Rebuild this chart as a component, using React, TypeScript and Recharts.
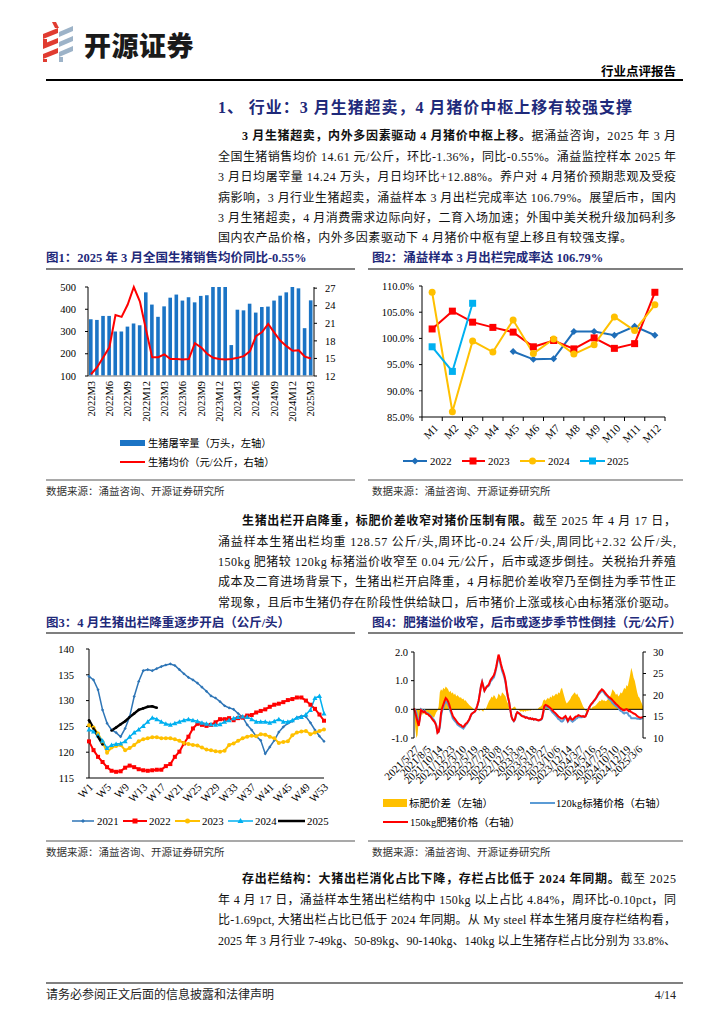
import React from 'react';
import { ComposedChart, LineChart, Bar, Line, Area, XAxis, YAxis, ReferenceLine } from 'recharts';

const SERIF = '"Liberation Serif", "Times New Roman", "Noto Sans CJK SC", serif';
const CJK = '"Liberation Serif", "Noto Sans CJK SC", sans-serif';
const NAVY = '#1F2A7A';

// ---------- Chart 1: monthly slaughter volume & price ----------
const months1 = [
  '2022M3', '2022M4', '2022M5', '2022M6', '2022M7', '2022M8', '2022M9', '2022M10', '2022M11', '2022M12',
  '2023M1', '2023M2', '2023M3', '2023M4', '2023M5', '2023M6', '2023M7', '2023M8', '2023M9', '2023M10', '2023M11', '2023M12',
  '2024M1', '2024M2', '2024M3', '2024M4', '2024M5', '2024M6', '2024M7', '2024M8', '2024M9', '2024M10', '2024M11', '2024M12',
  '2025M1', '2025M2', '2025M3',
];
const slaughter1 = [355, 352, 370, 370, 300, 300, 322, 336, 328, 476, 421, 366, 413, 452, 466, 439, 454, 431, 460, 463, 505, 512, 520, 239, 398, 395, 425, 385, 410, 412, 439, 461, 476, 502, 494, 315, 440];
const price1 = [12.3, 13.5, 15.2, 16.9, 22.4, 22.1, 24.2, 27.2, 24.7, 19.9, 15.2, 15.2, 15.7, 14.9, 14.9, 14.8, 14.9, 17.6, 16.9, 15.8, 15.1, 14.9, 14.8, 14.9, 15.1, 15.4, 16.2, 18.8, 19.5, 20.9, 19.4, 18.0, 17.1, 16.3, 16.4, 15.3, 15.0];

// ---------- Chart 2: monthly sale completion rate ----------
const months2 = ['M1', 'M2', 'M3', 'M4', 'M5', 'M6', 'M7', 'M8', 'M9', 'M10', 'M11', 'M12'];
const rate2022 = [null, null, null, null, 97.5, 96.0, 96.1, 101.3, 101.3, 100.6, 102.3, 100.6];
const rate2023 = [101.8, 105.2, 103.1, 102.1, 101.2, 98.4, 99.6, 98.0, 100.1, 98.1, 99.0, 108.8];
const rate2024 = [108.8, 86.0, 99.5, 97.4, 103.5, 97.1, 99.9, 97.0, 98.8, 104.1, 101.5, 106.4];
const rate2025 = [98.4, 93.7, 106.7, null, null, null, null, null, null, null, null, null];

// ---------- Chart 3: weekly sale weight ----------
const weeks3 = Array.from({ length: 53 }, (_, i) => `W${i + 1}`);
const wt2021 = [134.7, 134.0, 132.1, 128.2, 125.6, 124.3, 123.8, 123.0, 124.6, 126.9, 130.8, 133.7, 135.8, 136.0, 135.8, 136.2, 136.6, 136.9, 137.1, 136.8, 136.0, 135.2, 134.5, 134.0, 133.4, 132.6, 131.8, 130.9, 130.5, 129.8, 129.0, 128.6, 128.3, 127.5, 126.8, 125.3, 124.3, 123.1, 122.3, 119.7, 121.0, 122.3, 123.9, 124.9, 125.6, 126.0, 126.7, 127.0, 126.9, 125.7, 124.3, 123.1, 122.1];
const wt2022 = [122.1, 120.4, 119.1, 118.1, 117.1, 116.4, 116.2, 116.3, 117.0, 117.4, 117.1, 116.7, 116.5, 116.4, 116.5, 116.6, 116.6, 117.3, 117.7, 119.1, 120.1, 121.7, 123.0, 124.6, 125.5, 125.3, 125.1, 125.3, 125.8, 126.4, 126.4, 126.6, 126.2, 126.6, 126.7, 127.1, 127.2, 127.7, 128.0, 128.3, 128.8, 129.2, 129.4, 129.7, 130.1, 130.3, 130.6, 130.6, 130.0, 129.2, 128.4, 127.3, 126.1];
const wt2023 = [125.2, 124.8, 123.6, 122.0, 119.9, 120.9, 121.2, 121.4, 120.4, 120.8, 121.4, 122.1, 122.5, 122.7, 122.9, 122.9, 122.7, 122.7, 122.7, 122.5, 122.2, 121.8, 121.6, 121.4, 121.3, 120.9, 120.5, 120.4, 120.2, 120.1, 120.3, 121.4, 121.7, 122.2, 122.7, 123.0, 123.2, 123.1, 123.5, 123.4, 123.0, 122.7, 121.8, 122.0, 122.1, 123.3, 123.8, 124.0, 124.1, 123.5, 123.8, 124.1, 124.4];
const wt2024 = [124.4, 124.0, 123.3, 122.2, 120.8, 121.4, 121.6, 121.7, 122.1, 123.0, 123.8, 124.4, 125.1, 125.9, 126.7, 126.4, 125.9, 125.5, 125.3, 125.6, 125.9, 126.2, 126.4, 126.2, 126.0, 125.7, 125.5, 125.4, 125.3, 125.4, 125.9, 126.2, 126.6, 126.8, 126.9, 126.8, 126.4, 125.9, 125.9, 125.9, 125.7, 126.0, 126.4, 125.9, 125.9, 126.2, 126.7, 126.8, 127.3, 128.2, 130.5, 130.9, 127.5];
const wt2025 = [126.2, 124.6, 123.0, 121.5, null, 124.2, 124.8, 125.4, 126.0, 126.8, 127.5, 128.2, 128.5, 128.8, 128.9, 128.6];

// ---------- Chart 4: weekly fat/standard hog spread ----------
const dateLabels4 = ['2021/5/27', '2021/8/5', '2021/10/14', '2021/12/23', '2022/3/10', '2022/5/19', '2022/7/28', '2022/10/8', '2022/12/15', '2023/3/9', '2023/5/18', '2023/7/27', '2023/10/6', '2023/12/14', '2024/3/7', '2024/5/16', '2024/7/25', '2024/10/10', '2024/12/19', '2025/3/6'];
const spread4 = [
  0.2, -0.6, -1.0, -0.9, -0.4, -0.2, -0.15, -0.2, -0.1, -0.15,
  -0.2, -0.2, -0.15, -0.25, -0.2, -0.3, -0.25, -0.3, -0.2, -0.1,
  -0.05, 0.1, 0.6, 0.7, 0.65, 0.75, 0.7, 0.8, 0.75, 0.7,
  0.6, 0.65, 0.55, 0.6, 0.5, 0.55, 0.45, 0.5, 0.45, 0.4,
  0.42, 0.35, 0.38, 0.3, 0.32, 0.25, 0.2, 0.15, 0.12, 0.08,
  0.05, 0.0, 0.02, -0.02, 0.0, -0.03, -0.05, 0.0, -0.05, -0.08,
  0.05, 0.0, 0.1, 0.2, 0.3, 0.35, 0.45, 0.4, 0.5, 0.45,
  0.35, 0.4, 0.55, 0.5, 0.45, 0.6, 0.55, 0.5, 0.45, 0.3,
  0.2, 0.1, 0.05, 0.02, 0.05, 0.08, 0.1, 0.02, 0.0, -0.02,
  -0.05, -0.08, -0.05, -0.1, -0.05, -0.08, -0.04, -0.06, -0.03, -0.05,
  -0.02, 0.0, -0.03, 0.0, 0.02, 0.0, 0.05, 0.08, 0.1, 0.15,
  0.3, 0.35, 0.3, 0.35, 0.4, 0.35, 0.45, 0.4, 0.5, 0.45,
  0.5, 0.55, 0.5, 0.6, 0.55, 0.7, 0.75, 0.6, 0.45, 0.3,
  0.2, 0.25, 0.3, 0.35, 0.45, 0.5, 0.55, 0.6, 0.5, 0.55,
  0.45, 0.4, 0.3, 0.2, 0.1, 0.05, -0.05, -0.1, -0.05, 0.0,
  0.05, 0.02, 0.08, 0.1, 0.12, 0.15, 0.2, 0.25, 0.3, 0.28,
  0.35, 0.3, 0.32, 0.28, 0.3, 0.35, 0.4, 0.45, 0.55, 0.7,
  0.65, 0.6, 0.5, 0.55, 0.45, 0.5, 0.6, 0.55, 0.65, 0.75,
  0.7, 0.85, 0.8, 1.0, 1.2, 1.45, 1.3, 1.1, 1.0, 0.8,
  0.6, 0.45, 0.4, 0.3, 0.2, 0.1,
];
const p120_4 = [
  16.7, 16.6, 15.9, 14.7, 13.2, 14.7, 16.7, 16.5, 16.1, 16.4,
  16.0, 15.8, 15.7, 15.5, 15.2, 14.9, 14.5, 14.2, 13.7, 12.9,
  11.3, 11.4, 12.4, 15.1, 16.4, 17.1, 17.9, 18.5, 18.3, 17.8,
  17.2, 16.2, 15.5, 14.6, 14.2, 13.9, 13.6, 13.1, 12.9, 12.7,
  12.6, 12.4, 12.2, 12.6, 13.0, 13.3, 13.7, 14.2, 14.9, 15.5,
  15.8, 16.0, 16.2, 16.8, 17.6, 18.6, 20.3, 22.0, 23.1, 22.1,
  21.0, 21.5, 21.9, 22.0, 22.3, 23.1, 23.4, 23.8, 24.1, 25.0,
  26.2, 27.6, 28.9, 28.0, 26.8, 25.6, 24.9, 24.0, 22.8, 20.9,
  19.4, 18.3, 16.6, 15.0, 14.3, 13.9, 14.3, 15.5, 16.0, 15.8,
  15.7, 15.4, 15.2, 15.1, 15.0, 14.8, 14.8, 14.7, 14.5, 14.6,
  14.4, 14.5, 14.3, 14.4, 14.3, 14.2, 14.1, 14.1, 14.2, 14.5,
  15.7, 17.1, 17.4, 17.3, 17.0, 16.9, 16.6, 16.3, 15.9, 15.7,
  15.4, 15.1, 14.8, 14.4, 14.3, 13.9, 13.8, 14.0, 14.5, 14.8,
  14.4, 13.8, 14.2, 14.6, 14.0, 13.8, 14.0, 14.2, 14.5, 14.6,
  14.9, 14.8, 14.8, 14.8, 15.0, 14.9, 15.1, 15.7, 16.4, 17.0,
  17.5, 17.9, 18.1, 18.5, 18.8, 19.2, 19.6, 20.1, 20.4, 20.7,
  21.0, 20.8, 20.5, 20.1, 19.8, 19.5, 19.1, 18.9, 18.6, 18.1,
  17.9, 17.6, 17.4, 17.2, 17.0, 16.6, 16.3, 16.2, 15.9, 15.7,
  15.9, 15.9, 15.7, 15.2, 15.1, 14.6, 14.6, 14.6, 14.6, 14.6,
  14.5, 14.5, 14.4, 14.4, 14.6, 14.8,
];
const p150_4 = [
  16.9, 16.0, 14.9, 13.8, 12.8, 14.5, 16.5, 16.3, 16.0, 16.2,
  15.8, 15.6, 15.5, 15.2, 15.0, 14.6, 14.2, 13.9, 13.5, 12.8,
  11.2, 11.5, 13.0, 15.8, 17.0, 17.8, 18.6, 19.3, 19.0, 18.5,
  17.8, 16.8, 16.0, 15.2, 14.7, 14.4, 14.0, 13.6, 13.3, 13.1,
  13.0, 12.7, 12.6, 12.9, 13.3, 13.5, 13.9, 14.3, 15.0, 15.6,
  15.8, 16.0, 16.2, 16.8, 17.6, 18.6, 20.2, 22.0, 23.0, 22.0,
  21.0, 21.5, 22.0, 22.2, 22.6, 23.4, 23.8, 24.2, 24.6, 25.4,
  26.5, 28.0, 29.4, 28.5, 27.2, 26.2, 25.4, 24.5, 23.2, 21.2,
  19.6, 18.4, 16.6, 15.0, 14.3, 14.0, 14.4, 15.5, 16.0, 15.8,
  15.6, 15.3, 15.1, 15.0, 14.9, 14.7, 14.8, 14.6, 14.5, 14.6,
  14.4, 14.5, 14.3, 14.4, 14.3, 14.2, 14.1, 14.2, 14.3, 14.6,
  16.0, 17.4, 17.7, 17.6, 17.4, 17.2, 17.0, 16.7, 16.4, 16.1,
  15.9, 15.6, 15.3, 15.0, 14.8, 14.6, 14.5, 14.6, 14.9, 15.1,
  14.6, 14.0, 14.5, 14.9, 14.4, 14.3, 14.5, 14.8, 15.0, 15.1,
  15.3, 15.2, 15.1, 15.0, 15.1, 14.9, 15.0, 15.6, 16.3, 17.0,
  17.5, 17.9, 18.2, 18.6, 18.9, 19.3, 19.8, 20.3, 20.7, 21.0,
  21.3, 21.1, 20.8, 20.4, 20.1, 19.8, 19.5, 19.3, 19.1, 18.8,
  18.5, 18.2, 17.9, 17.7, 17.4, 17.1, 16.9, 16.7, 16.5, 16.4,
  16.6, 16.7, 16.5, 16.2, 16.3, 16.0, 15.9, 15.7, 15.6, 15.4,
  15.1, 14.9, 14.8, 14.7, 14.8, 14.9,
];

// ---------- assembled tables ----------
const data1 = months1.map((m, i) => ({ m, v: slaughter1[i], p: price1[i] }));
const data2 = months2.map((m, i) => ({ m, a: rate2022[i], b: rate2023[i], c: rate2024[i], d: rate2025[i] }));
const data3 = weeks3.map((w, i) => ({ w, a: wt2021[i], b: wt2022[i], c: wt2023[i], e: wt2024[i], f: i < wt2025.length ? wt2025[i] : null }));
const data4 = spread4.map((s, i) => ({ i, s, p1: p120_4[i], p2: p150_4[i] }));
const ticks4 = dateLabels4.map((_, k) => k * 10);

// ---------- tick renderers ----------
function TickRot90(props: any) {
  const { x, y, payload } = props;
  const ax = x, ay = y + 5;
  return (
    <text x={ax} y={ay} transform={`rotate(-90 ${ax} ${ay})`} textAnchor="end" dominantBaseline="central" fontSize={10.5} fontFamily={SERIF} fill="#000">
      {payload.value}
    </text>
  );
}

function TickRot45(props: any) {
  const { x, y, payload, fmt, ox = 3, oy = 7, fs = 10.5, half, last, index } = props;
  const label = fmt ? fmt(payload.value) : payload.value;
  const ax = x + ox, ay = y + oy;
  return (
    <g>
      {half ? <line x1={x - half} x2={x - half} y1={y} y2={y + 4} stroke="#000" strokeWidth={1} /> : null}
      {half && index === last ? <line x1={x + half} x2={x + half} y1={y} y2={y + 4} stroke="#000" strokeWidth={1} /> : null}
      <text x={ax} y={ay} transform={`rotate(-45 ${ax} ${ay})`} textAnchor="end" dominantBaseline="central" fontSize={fs} fontFamily={SERIF} fill="#000">
        {label}
      </text>
    </g>
  );
}

// ---------- marker renderers ----------
const nothing = (k: any) => <g key={k} />;
const squareDot = (size: number, fill: string) => (p: any) =>
  p.cx == null || p.cy == null || p.value == null ? nothing(p.index) : <rect key={p.index} x={p.cx - size / 2} y={p.cy - size / 2} width={size} height={size} fill={fill} />;
const circleDot = (r: number, fill: string) => (p: any) =>
  p.cx == null || p.cy == null || p.value == null ? nothing(p.index) : <circle key={p.index} cx={p.cx} cy={p.cy} r={r} fill={fill} />;
const diamondDot = (s: number, fill: string) => (p: any) =>
  p.cx == null || p.cy == null || p.value == null ? nothing(p.index) : <path key={p.index} d={`M${p.cx} ${p.cy - s}L${p.cx + s} ${p.cy}L${p.cx} ${p.cy + s}L${p.cx - s} ${p.cy}Z`} fill={fill} />;
const triDot = (s: number, fill: string) => (p: any) =>
  p.cx == null || p.cy == null || p.value == null ? nothing(p.index) : <path key={p.index} d={`M${p.cx} ${p.cy - s}L${p.cx + s} ${p.cy + s * 0.8}L${p.cx - s} ${p.cy + s * 0.8}Z`} fill={fill} />;

const axisTick = { fontSize: 10.5, fill: '#000', fontFamily: SERIF };
const blackLine = { stroke: '#000', strokeWidth: 1 };

// ---------- page text ----------
type Part = { t: string; b?: boolean };
type TL = { x: number; y: number; w?: number; parts: Part[] };
const bodyLines: TL[] = [
  { x: 242, y: 136, w: 434, parts: [{ t: '3 月生猪超卖，内外多因素驱动 4 月猪价中枢上移。', b: true }, { t: '据涌益咨询，2025 年 3 月' }] },
  { x: 218, y: 157, w: 458, parts: [{ t: '全国生猪销售均价 14.61 元/公斤，环比-1.36%，同比-0.55%。涌益监控样本 2025 年' }] },
  { x: 218, y: 177, w: 458, parts: [{ t: '3 月日均屠宰量 14.24 万头，月日均环比+12.88%。养户对 4 月猪价预期悲观及受疫' }] },
  { x: 218, y: 198, w: 458, parts: [{ t: '病影响，3 月行业生猪超卖，涌益样本 3 月出栏完成率达 106.79%。展望后市，国内' }] },
  { x: 218, y: 218, w: 458, parts: [{ t: '3 月生猪超卖，4 月消费需求边际向好，二育入场加速；外围中美关税升级加码利多' }] },
  { x: 218, y: 238, w: 414, parts: [{ t: '国内农产品价格，内外多因素驱动下 4 月猪价中枢有望上移且有较强支撑。' }] },
  { x: 242, y: 521, w: 434, parts: [{ t: '生猪出栏开启降重，标肥价差收窄对猪价压制有限。', b: true }, { t: '截至 2025 年 4 月 17 日，' }] },
  { x: 218, y: 541.5, w: 458, parts: [{ t: '涌益样本生猪出栏均重 128.57 公斤/头,周环比-0.24 公斤/头,周同比+2.32 公斤/头,' }] },
  { x: 218, y: 562, w: 458, parts: [{ t: '150kg 肥猪较 120kg 标猪溢价收窄至 0.04 元/公斤，后市或逐步倒挂。关税抬升养殖' }] },
  { x: 218, y: 582, w: 458, parts: [{ t: '成本及二育进场背景下，生猪出栏开启降重，4 月标肥价差收窄乃至倒挂为季节性正' }] },
  { x: 218, y: 602.5, w: 458, parts: [{ t: '常现象，且后市生猪仍存在阶段性供给缺口，后市猪价上涨或核心由标猪涨价驱动。' }] },
  { x: 242, y: 879, w: 434, parts: [{ t: '存出栏结构：大猪出栏消化占比下降，存栏占比低于 2024 年同期。', b: true }, { t: '截至 2025' }] },
  { x: 218, y: 900, w: 458, parts: [{ t: '年 4 月 17 日，涌益样本生猪出栏结构中 150kg 以上占比 4.84%，周环比-0.10pct，同' }] },
  { x: 218, y: 920, w: 458, parts: [{ t: '比-1.69pct, 大猪出栏占比已低于 2024 年同期。从 My steel 样本生猪月度存栏结构看，' }] },
  { x: 218, y: 941, w: 458, parts: [{ t: '2025 年 3 月行业 7-49kg、50-89kg、90-140kg、140kg 以上生猪存栏占比分别为 33.8%、' }] },
];
const chartTitles = [
  { x: 46, y: 258, t: '图1：2025 年 3 月全国生猪销售均价同比-0.55%' },
  { x: 372, y: 258, t: '图2：涌益样本 3 月出栏完成率达 106.79%' },
  { x: 46, y: 623, t: '图3：4 月生猪出栏降重逐步开启（公斤/头）' },
  { x: 372, y: 623, t: '图4：肥猪溢价收窄，后市或逐步季节性倒挂（元/公斤）' },
];
const SOURCE = '数据来源：涌益咨询、开源证券研究所';

function Logo() {
  return (
    <g transform="translate(42,22)">
      <path d="M10 0 L14 0 L17 6 L13 6 Z" fill="#E03C31" />
      <path d="M1 12 L16 6 L16 11 L1 17 Z" fill="#E03C31" />
      <path d="M1 17 L5 17 L5 24 L1 24 Z" fill="#E03C31" />
      <path d="M1 22 L16 16 L16 21 L1 27 Z" fill="#E03C31" />
      <path d="M1 32 L16 26 L16 31 L1 37 Z" fill="#E03C31" />
      <path d="M1 37 L5 37 L5 40 L1 40 Z" fill="#E03C31" />
      <path d="M17 10 L31 4 L31 9 L17 15 Z" fill="#9DB3C8" />
      <path d="M17 20 L31 14 L31 19 L17 25 Z" fill="#9DB3C8" />
      <path d="M17 30 L31 24 L31 29 L17 35 Z" fill="#9DB3C8" />
      <path d="M17 35 L21 35 L21 40 L17 40 Z" fill="#9DB3C8" />
    </g>
  );
}

function Page() {
  return (
    <svg width={724} height={1024} style={{ position: 'absolute', left: 0, top: 0 }}>
      <rect x={0} y={0} width={724} height={1024} fill="#fff" />
      <Logo />
      <text x={84} y={44} fontSize={27} fontWeight={900} fontFamily='"Noto Sans CJK SC", sans-serif' dominantBaseline="central" fill="#1a1a1a" letterSpacing={0.5}>开源证券</text>
      <text x={676} y={72} textAnchor="end" fontSize={12.5} fontWeight={700} fontFamily={CJK} dominantBaseline="central" fill="#000">行业点评报告</text>
      <line x1={46} x2={683} y1={80} y2={80} stroke="#000" strokeWidth={1.8} />
      <text x={218} y={107} textLength={414} lengthAdjust="spacing" fontSize={16} fontWeight={700} fontFamily={CJK} dominantBaseline="central" fill={NAVY}>1、 行业：3 月生猪超卖，4 月猪价中枢上移有较强支撑</text>
      {bodyLines.map((l, k) => (
        <text key={k} x={l.x} y={l.y} textLength={l.w} lengthAdjust="spacing" fontSize={12} fontFamily={CJK} dominantBaseline="central" fill="#111">
          {l.parts.map((p, j) => (
            <tspan key={j} fontWeight={p.b ? 700 : 400}>{p.t}</tspan>
          ))}
        </text>
      ))}
      {chartTitles.map((c, k) => (
        <text key={k} x={c.x} y={c.y} fontSize={12.5} fontWeight={700} fontFamily={CJK} dominantBaseline="central" fill={NAVY}>{c.t}</text>
      ))}
      {[269, 633].map((y) => (
        <g key={y}>
          <line x1={46} x2={355} y1={y} y2={y} stroke="#555" strokeWidth={1.5} />
          <line x1={368} x2={683} y1={y} y2={y} stroke="#555" strokeWidth={1.5} />
        </g>
      ))}
      {[[480, 491], [841, 852]].map(([ly, ty]) => (
        <g key={ly}>
          <line x1={46} x2={355} y1={ly} y2={ly} stroke="#8c8c8c" strokeWidth={1.5} />
          <line x1={368} x2={683} y1={ly} y2={ly} stroke="#8c8c8c" strokeWidth={1.5} />
          <text x={46} y={ty} fontSize={10.5} fontFamily={CJK} dominantBaseline="central" fill="#333">{SOURCE}</text>
          <text x={372} y={ty} fontSize={10.5} fontFamily={CJK} dominantBaseline="central" fill="#333">{SOURCE}</text>
        </g>
      ))}

      {/* legend chart 1 */}
      <rect x={120} y={440} width={25} height={6} fill="#1B74C5" />
      <text x={148} y={443} fontSize={10.3} fontFamily={CJK} dominantBaseline="central">生猪屠宰量（万头，左轴）</text>
      <line x1={120} x2={145} y1={462} y2={462} stroke="#FF0000" strokeWidth={2} />
      <text x={148} y={462} fontSize={10.3} fontFamily={CJK} dominantBaseline="central">生猪均价（元/公斤，右轴）</text>

      {/* legend chart 2 */}
      <line x1={403} x2={427} y1={461} y2={461} stroke="#1F6EB8" strokeWidth={2} />
      <path d="M415 457.5L418.5 461L415 464.5L411.5 461Z" fill="#1F6EB8" />
      <text x={430} y={461} fontSize={10.8} fontFamily={SERIF} dominantBaseline="central">2022</text>
      <line x1={462} x2={485} y1={461} y2={461} stroke="#FF0000" strokeWidth={2} />
      <rect x={469.5} y={457.5} width={7} height={7} fill="#FF0000" />
      <text x={488} y={461} fontSize={10.8} fontFamily={SERIF} dominantBaseline="central">2023</text>
      <line x1={520} x2={545} y1={461} y2={461} stroke="#FFC000" strokeWidth={2} />
      <circle cx={532.5} cy={461} r={3.5} fill="#FFC000" />
      <text x={548} y={461} fontSize={10.8} fontFamily={SERIF} dominantBaseline="central">2024</text>
      <line x1={580} x2={605} y1={461} y2={461} stroke="#00B0F0" strokeWidth={2} />
      <rect x={589} y={457.5} width={7} height={7} fill="#00B0F0" />
      <text x={607} y={461} fontSize={10.8} fontFamily={SERIF} dominantBaseline="central">2025</text>

      {/* legend chart 3 */}
      <line x1={72} x2={94} y1={821} y2={821} stroke="#2E75B6" strokeWidth={1.5} />
      <path d="M83 819L85 821L83 823L81 821Z" fill="#2E75B6" />
      <text x={97} y={821} fontSize={10.8} fontFamily={SERIF} dominantBaseline="central">2021</text>
      <line x1={123} x2={147} y1={821} y2={821} stroke="#FF0000" strokeWidth={2} />
      <rect x={132.5} y={818.5} width={5} height={5} fill="#FF0000" />
      <text x={149} y={821} fontSize={10.8} fontFamily={SERIF} dominantBaseline="central">2022</text>
      <line x1={175} x2={200} y1={821} y2={821} stroke="#FFC000" strokeWidth={2} />
      <circle cx={187.5} cy={821} r={2.5} fill="#FFC000" />
      <text x={202} y={821} fontSize={10.8} fontFamily={SERIF} dominantBaseline="central">2023</text>
      <line x1={228} x2={253} y1={821} y2={821} stroke="#00B0F0" strokeWidth={1.5} />
      <path d="M240.5 818L243.5 823L237.5 823Z" fill="#00B0F0" />
      <text x={255} y={821} fontSize={10.8} fontFamily={SERIF} dominantBaseline="central">2024</text>
      <line x1={278} x2={305} y1={821} y2={821} stroke="#000" strokeWidth={2.5} />
      <text x={307} y={821} fontSize={10.8} fontFamily={SERIF} dominantBaseline="central">2025</text>

      {/* legend chart 4 */}
      <rect x={383} y={799} width={24} height={8} fill="#FFC000" />
      <text x={409} y={803} fontSize={10.5} fontFamily={CJK} dominantBaseline="central">标肥价差（左轴）</text>
      <line x1={530} x2={555} y1={803} y2={803} stroke="#5B9BD5" strokeWidth={2} />
      <text x={556} y={803} fontSize={10.5} fontFamily={CJK} dominantBaseline="central">120kg标猪价格（右轴）</text>
      <line x1={383} x2={408} y1={822} y2={822} stroke="#FF0000" strokeWidth={2} />
      <text x={410} y={822} fontSize={10.5} fontFamily={CJK} dominantBaseline="central">150kg肥猪价格（右轴）</text>

      {/* footer */}
      <line x1={46} x2={683} y1={983} y2={983} stroke="#808080" strokeWidth={2} />
      <text x={46} y={995} fontSize={12} fontFamily={CJK} dominantBaseline="central" fill="#222">请务必参阅正文后面的信息披露和法律声明</text>
      <text x={676} y={995} textAnchor="end" fontSize={12} fontFamily={SERIF} dominantBaseline="central" fill="#222">4/14</text>
    </svg>
  );
}

const HALF2 = (665 - 422) / 24;

export default function App() {
  return (
    <div style={{ position: 'absolute', left: 0, top: 0, width: 724, height: 1024, background: '#fff', overflow: 'hidden' }}>
      <Page />

      {/* Chart 1 */}
      <div style={{ position: 'absolute', left: 40, top: 270 }}>
        <ComposedChart width={320} height={210} data={data1} margin={{ top: 17, right: 0, bottom: 0, left: 0 }}>
          <XAxis dataKey="m" interval={2} tickLine={false} tickSize={0} tickMargin={0} axisLine={{ stroke: '#A6A6A6', strokeWidth: 1.5 }} height={104} tick={<TickRot90 />} />
          <YAxis yAxisId="l" domain={[100, 500]} ticks={[100, 200, 300, 400, 500]} allowDataOverflow width={48} tick={axisTick} axisLine={blackLine} tickLine={blackLine} tickSize={3} tickMargin={9} />
          <YAxis yAxisId="r" orientation="right" domain={[12, 27]} ticks={[12, 15, 18, 21, 24, 27]} width={46} tick={axisTick} axisLine={blackLine} tickLine={blackLine} tickSize={3} tickMargin={8} />
          <Bar yAxisId="l" dataKey="v" fill="#1B74C5" barSize={3.6} isAnimationActive={false} />
          <Line yAxisId="r" dataKey="p" stroke="#FF0000" strokeWidth={2} dot={false} type="linear" isAnimationActive={false} />
        </ComposedChart>
      </div>

      {/* Chart 2 */}
      <div style={{ position: 'absolute', left: 360, top: 270 }}>
        <LineChart width={320} height={210} data={data2} margin={{ top: 16, right: 15, bottom: 0, left: 0 }}>
          <XAxis dataKey="m" scale="band" interval={0} tickLine={false} tickSize={0} tickMargin={0} axisLine={blackLine} height={63} tick={<TickRot45 half={HALF2} last={11} ox={4} oy={9} fs={11} />} />
          <YAxis domain={[85, 110]} ticks={[85, 90, 95, 100, 105, 110]} tickFormatter={(v: number) => v.toFixed(1) + '%'} width={62} tick={axisTick} axisLine={blackLine} tickLine={blackLine} tickSize={3} tickMargin={5} />
          <Line dataKey="a" stroke="#1F6EB8" strokeWidth={2} dot={diamondDot(3.5, '#1F6EB8')} isAnimationActive={false} />
          <Line dataKey="b" stroke="#FF0000" strokeWidth={2} dot={squareDot(7, '#FF0000')} isAnimationActive={false} />
          <Line dataKey="c" stroke="#FFC000" strokeWidth={2} dot={circleDot(3.5, '#FFC000')} isAnimationActive={false} />
          <Line dataKey="d" stroke="#00B0F0" strokeWidth={2} dot={squareDot(7, '#00B0F0')} isAnimationActive={false} />
        </LineChart>
      </div>

      {/* Chart 3 */}
      <div style={{ position: 'absolute', left: 40, top: 633 }}>
        <LineChart width={320} height={205} data={data3} margin={{ top: 16, right: 36, bottom: 0, left: 0 }}>
          <XAxis dataKey="w" scale="point" padding={{ left: 0, right: 0 }} interval={3} tickLine={false} tickSize={0} tickMargin={0} axisLine={blackLine} height={60} tick={<TickRot45 ox={2} oy={7} fs={11} />} />
          <YAxis domain={[115, 140]} ticks={[115, 120, 125, 130, 135, 140]} width={49} tick={axisTick} axisLine={blackLine} tickLine={blackLine} tickSize={3} tickMargin={12} />
          <Line dataKey="a" stroke="#2E75B6" strokeWidth={1.5} dot={diamondDot(1.6, '#2E75B6')} isAnimationActive={false} />
          <Line dataKey="b" stroke="#FF0000" strokeWidth={2} dot={squareDot(4, '#FF0000')} isAnimationActive={false} />
          <Line dataKey="c" stroke="#FFC000" strokeWidth={2} dot={circleDot(2, '#FFC000')} isAnimationActive={false} />
          <Line dataKey="e" stroke="#00B0F0" strokeWidth={1.5} dot={triDot(2.5, '#00B0F0')} isAnimationActive={false} />
          <Line dataKey="f" stroke="#000" strokeWidth={2.5} dot={circleDot(1.3, '#000')} isAnimationActive={false} />
        </LineChart>
      </div>

      {/* Chart 4 */}
      <div style={{ position: 'absolute', left: 360, top: 633 }}>
        <ComposedChart width={320} height={205} data={data4} margin={{ top: 19, right: 0, bottom: 0, left: 0 }}>
          <XAxis dataKey="i" type="number" domain={[0, 195]} ticks={ticks4} interval={0} tickLine={false} tickSize={0} tickMargin={0} axisLine={false} height={100}
            tick={<TickRot45 ox={3} oy={9} fs={10.8} fmt={(v: number) => dateLabels4[Math.round(v / 10)]} />} />
          <YAxis yAxisId="l" domain={[-1, 2]} ticks={[-1, -0.5, 0, 0.5, 1, 1.5, 2]} tickFormatter={(v: number) => v.toFixed(1)} width={54} tick={axisTick} axisLine={blackLine} tickLine={blackLine} tickSize={3} tickMargin={3} />
          <YAxis yAxisId="r" orientation="right" domain={[10, 30]} ticks={[10, 15, 20, 25, 30]} width={37} tick={axisTick} axisLine={blackLine} tickLine={blackLine} tickSize={3} tickMargin={7} />
          <Area yAxisId="l" dataKey="s" type="linear" fill="#FFC000" fillOpacity={1} stroke="none" baseValue={0} isAnimationActive={false} />
          <ReferenceLine yAxisId="l" y={0} stroke="#000" strokeWidth={1} />
          <Line yAxisId="r" dataKey="p1" stroke="#5B9BD5" strokeWidth={2} dot={false} type="linear" isAnimationActive={false} />
          <Line yAxisId="r" dataKey="p2" stroke="#FF0000" strokeWidth={2} dot={false} type="linear" isAnimationActive={false} />
        </ComposedChart>
      </div>
    </div>
  );
}
